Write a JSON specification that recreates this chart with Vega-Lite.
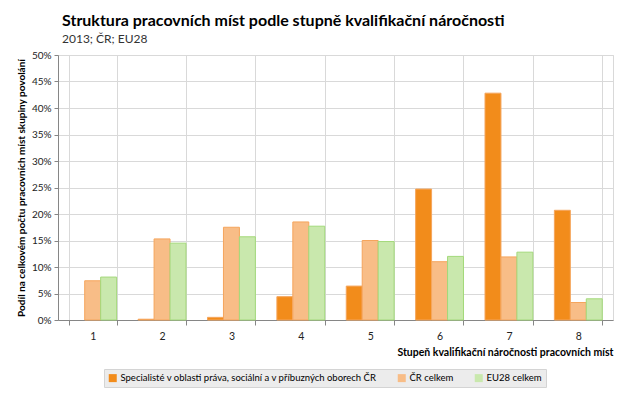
{
  "$schema": "https://vega.github.io/schema/vega-lite/v6.json",
  "width": 555,
  "height": 265,
  "autosize": "none",
  "padding": {"left": 58, "top": 55, "right": 14, "bottom": 77},
  "background": "white",
  "title": {
    "text": "Struktura pracovních míst podle stupně kvalifikační náročnosti",
    "subtitle": "2013; ČR; EU28",
    "anchor": "start",
    "frame": "group",
    "dx": 4,
    "offset": 5,
    "font": "Lato",
    "fontSize": 16,
    "fontWeight": "bold",
    "color": "#000000",
    "subtitleFont": "Lato",
    "subtitleFontSize": 12,
    "subtitleColor": "#333333",
    "subtitlePadding": 5
  },
  "config": {
    "font": "Lato",
    "view": {"stroke": "#d9d9d9"},
    "axis": {"labelFont": "Lato", "titleFont": "Lato", "labelColor": "#222222", "titleColor": "#000000"}
  },
  "data": {
    "values": [
      {"stupen": "1", "serie": "Specialisté v oblasti práva, sociální a v příbuzných oborech ČR", "podil": 0},
      {"stupen": "1", "serie": "ČR celkem", "podil": 7.4},
      {"stupen": "1", "serie": "EU28 celkem", "podil": 8.1},
      {"stupen": "2", "serie": "Specialisté v oblasti práva, sociální a v příbuzných oborech ČR", "podil": 0.15},
      {"stupen": "2", "serie": "ČR celkem", "podil": 15.3},
      {"stupen": "2", "serie": "EU28 celkem", "podil": 14.5},
      {"stupen": "3", "serie": "Specialisté v oblasti práva, sociální a v příbuzných oborech ČR", "podil": 0.5},
      {"stupen": "3", "serie": "ČR celkem", "podil": 17.5},
      {"stupen": "3", "serie": "EU28 celkem", "podil": 15.7},
      {"stupen": "4", "serie": "Specialisté v oblasti práva, sociální a v příbuzných oborech ČR", "podil": 4.4},
      {"stupen": "4", "serie": "ČR celkem", "podil": 18.5},
      {"stupen": "4", "serie": "EU28 celkem", "podil": 17.7},
      {"stupen": "5", "serie": "Specialisté v oblasti práva, sociální a v příbuzných oborech ČR", "podil": 6.4},
      {"stupen": "5", "serie": "ČR celkem", "podil": 15.0},
      {"stupen": "5", "serie": "EU28 celkem", "podil": 14.8},
      {"stupen": "6", "serie": "Specialisté v oblasti práva, sociální a v příbuzných oborech ČR", "podil": 24.7},
      {"stupen": "6", "serie": "ČR celkem", "podil": 11.0},
      {"stupen": "6", "serie": "EU28 celkem", "podil": 12.0},
      {"stupen": "7", "serie": "Specialisté v oblasti práva, sociální a v příbuzných oborech ČR", "podil": 42.8},
      {"stupen": "7", "serie": "ČR celkem", "podil": 11.9},
      {"stupen": "7", "serie": "EU28 celkem", "podil": 12.8},
      {"stupen": "8", "serie": "Specialisté v oblasti práva, sociální a v příbuzných oborech ČR", "podil": 20.7},
      {"stupen": "8", "serie": "ČR celkem", "podil": 3.3},
      {"stupen": "8", "serie": "EU28 celkem", "podil": 4.0}
    ]
  },
  "mark": {"type": "bar"},
  "encoding": {
    "x": {
      "field": "stupen",
      "type": "nominal",
      "scale": {"paddingInner": 0.31, "paddingOuter": 0.155},
      "axis": {
        "labelAngle": 0,
        "labelFontSize": 10.5,
        "labelPadding": 6,
        "tickBand": "extent",
        "tickSize": 5,
        "tickColor": "#868686",
        "domainColor": "#868686",
        "gridColor": "#d9d9d9",
        "grid": true,
        "title": "Stupeň kvalifikační náročnosti pracovních míst",
        "titleFontSize": 10.5,
        "titleFontWeight": "bold",
        "titleAnchor": "end",
        "titleAlign": "right",
        "titlePadding": 6
      }
    },
    "xOffset": {
      "field": "serie",
      "type": "nominal",
      "sort": ["Specialisté v oblasti práva, sociální a v příbuzných oborech ČR", "ČR celkem", "EU28 celkem"],
      "scale": {"paddingInner": 0, "paddingOuter": 0}
    },
    "y": {
      "field": "podil",
      "type": "quantitative",
      "scale": {"domain": [0, 50], "nice": false},
      "axis": {
        "values": [0, 5, 10, 15, 20, 25, 30, 35, 40, 45, 50],
        "labelExpr": "datum.value + '%'",
        "labelFontSize": 10,
        "labelPadding": 3,
        "tickSize": 4,
        "tickColor": "#868686",
        "domainColor": "#868686",
        "gridColor": "#d9d9d9",
        "title": "Podíl na celkovém počtu pracovních míst skupiny povolání",
        "titleFontSize": 10,
        "titleFontWeight": "bold",
        "titlePadding": 5
      }
    },
    "color": {
      "field": "serie",
      "type": "nominal",
      "sort": ["Specialisté v oblasti práva, sociální a v příbuzných oborech ČR", "ČR celkem", "EU28 celkem"],
      "scale": {
        "domain": ["Specialisté v oblasti práva, sociální a v příbuzných oborech ČR", "ČR celkem", "EU28 celkem"],
        "range": ["#f28c1b", "#f8bd87", "#c9e8ad"]
      },
      "legend": {
        "title": null,
        "orient": "none",
        "direction": "horizontal",
        "legendX": 46,
        "legendY": 314,
        "fillColor": "#ececec",
        "strokeColor": "#d4d4d4",
        "padding": 4,
        "symbolType": "square",
        "symbolSize": 64,
        "symbolStrokeWidth": 0,
        "labelFont": "Lato",
        "labelFontSize": 9.5,
        "labelColor": "#000000",
        "labelLimit": 0,
        "labelOffset": 3,
        "columnPadding": 20
      }
    },
    "stroke": {
      "field": "serie",
      "type": "nominal",
      "scale": {
        "domain": ["Specialisté v oblasti práva, sociální a v příbuzných oborech ČR", "ČR celkem", "EU28 celkem"],
        "range": ["#f5a55c", "#f5a55c", "#a3d97a"]
      },
      "legend": null
    },
    "strokeWidth": {
      "condition": {"test": "datum.podil == 0", "value": 0},
      "value": 1
    }
  }
}
